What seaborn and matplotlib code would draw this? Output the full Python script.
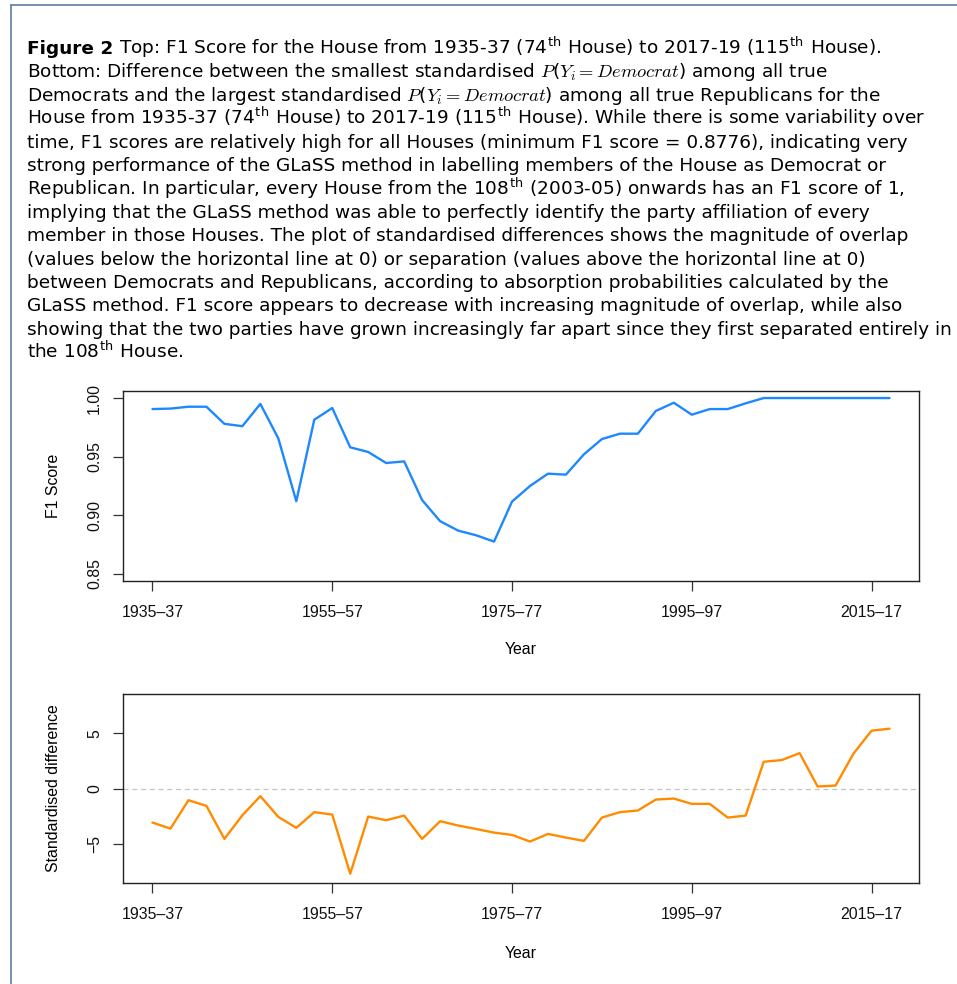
import numpy as np
import pandas as pd
import seaborn as sns
from matplotlib import pyplot as plt
from matplotlib.lines import Line2D

# House number, 74th (1935-37) to 115th (2017-19)
house = list(range(74, 116))

f1_score = [0.9906, 0.9910, 0.9926, 0.9926, 0.9780, 0.9760, 0.9950, 0.9656,
            0.9120, 0.9815, 0.9915, 0.9580, 0.9540, 0.9446, 0.9460, 0.9130,
            0.8950, 0.8870, 0.8830, 0.8776, 0.9117, 0.9250, 0.9355, 0.9347,
            0.9520, 0.9650, 0.9696, 0.9696, 0.9890, 0.9960, 0.9858, 0.9906,
            0.9906, 0.9955, 1.0, 1.0, 1.0, 1.0, 1.0, 1.0, 1.0, 1.0]

std_diff = [-3.08, -3.63, -1.06, -1.57, -4.56, -2.42, -0.69, -2.57,
            -3.56, -2.14, -2.36, -7.71, -2.54, -2.87, -2.45, -4.56,
            -2.96, -3.35, -3.66, -3.99, -4.20, -4.80, -4.11, -4.44,
            -4.74, -2.63, -2.14, -1.99, -1.00, -0.91, -1.39, -1.39,
            -2.63, -2.45, 2.42, 2.57, 3.20, 0.18, 0.27, 3.17,
            5.23, 5.41]

tick_house = [74, 84, 94, 104, 114]
tick_labels = ['1935\u201337', '1955\u201357', '1975\u201377', '1995\u201397', '2015\u201317']

TH = r'$^{\mathdefault{th}}$'
PY = r'$P\mathdefault{(}Y_i = Democrat\mathdefault{)}$'
first_line = 'Top: F1 Score for the House from 1935-37 (74' + TH + ' House) to 2017-19 (115' + TH + ' House).'
caption = [
    None,
    'Bottom: Difference between the smallest standardised ' + PY + ' among all true',
    'Democrats and the largest standardised ' + PY + ' among all true Republicans for the',
    'House from 1935-37 (74' + TH + ' House) to 2017-19 (115' + TH + ' House). While there is some variability over',
    'time, F1 scores are relatively high for all Houses (minimum F1 score = 0.8776), indicating very',
    'strong performance of the GLaSS method in labelling members of the House as Democrat or',
    'Republican. In particular, every House from the 108' + TH + ' (2003-05) onwards has an F1 score of 1,',
    'implying that the GLaSS method was able to perfectly identify the party affiliation of every',
    'member in those Houses. The plot of standardised differences shows the magnitude of overlap',
    '(values below the horizontal line at 0) or separation (values above the horizontal line at 0)',
    'between Democrats and Republicans, according to absorption probabilities calculated by the',
    'GLaSS method. F1 score appears to decrease with increasing magnitude of overlap, while also',
    'showing that the two parties have grown increasingly far apart since they first separated entirely in',
    'the 108' + TH + ' House.',
]

sns.set_style('ticks')
plt.rcParams['font.family'] = ['Liberation Sans', 'Arial', 'DejaVu Sans']
plt.rcParams['mathtext.fontset'] = 'cm'
plt.rcParams['axes.unicode_minus'] = True
plt.rcParams['text.color'] = 'black'

W, H = 957, 984
fig = plt.figure(figsize=(W / 100, H / 100), dpi=100)

# page frame
fig.add_artist(Line2D([11 / W, 11 / W], [0, 1 - 5 / H], color='#5b7ba6', lw=1.2))
fig.add_artist(Line2D([11 / W, 1], [1 - 5 / H, 1 - 5 / H], color='#5b7ba6', lw=1.2))

# caption, font size fitted so the longest line spans its width in the original
cap_font = 'DejaVu Sans'
x0 = 27 / W
def base_y(k):
    return 1 - (54 + 23.4 * k) / H

probe = fig.text(x0, base_y(12), caption[12], family=cap_font, fontsize=12, va='baseline')
fig.canvas.draw()
w12 = probe.get_window_extent().width
cap_size = 12 * (948 - 27) / w12
probe.set_fontsize(cap_size)

fig_lbl = fig.text(x0, base_y(0), 'Figure 2', family=cap_font, fontsize=cap_size,
                   fontweight='bold', va='baseline')
fig.canvas.draw()
bb = fig_lbl.get_window_extent()
fig.text((bb.x1 + 6) / W, base_y(0), first_line, family=cap_font, fontsize=cap_size, va='baseline')
for k, line in enumerate(caption):
    if line is None or k == 12:
        continue
    fig.text(x0, base_y(k), line, family=cap_font, fontsize=cap_size, va='baseline')

df = pd.DataFrame({'house': house, 'f1': f1_score, 'diff': std_diff})

left, width = 123 / W, 796 / W
ax1 = fig.add_axes([left, 1 - 581 / H, width, 190 / H])
ax2 = fig.add_axes([left, 1 - 883 / H, width, 189 / H])

sns.lineplot(data=df, x='house', y='f1', ax=ax1, color='#1e88ff', lw=1.7)
ax1.set_ylim(0.844, 1.006)
ax1.set_yticks([0.85, 0.90, 0.95, 1.00])
ax1.set_yticklabels(['0.85', '0.90', '0.95', '1.00'])

ax2.axhline(0, color='#c4c4c4', lw=0.9, ls=(0, (4, 3)))
sns.lineplot(data=df, x='house', y='diff', ax=ax2, color='#ff8c00', lw=1.7)
ax2.set_ylim(-8.55, 8.55)
ax2.set_yticks([-5, 0, 5])
ax2.set_yticklabels(['\u22125', '0', '5'])

for ax in (ax1, ax2):
    ax.set_xlim(74 - 1.64, 115 + 1.64)
    ax.set_xticks(tick_house)
    ax.set_xticklabels(tick_labels)
    ax.set_xlabel('')
    ax.set_ylabel('')
    for s in ax.spines.values():
        s.set_visible(True)
        s.set_linewidth(1.0)
        s.set_color('#222222')
    ax.tick_params(axis='both', direction='out', length=7, width=0.9, color='#333333',
                   labelsize=11.4, pad=10, labelcolor='#111111')
    for t in ax.get_yticklabels():
        t.set_rotation(90)
        t.set_va('center')
    ax.tick_params(axis='y', pad=8)

fig.text(54 / W, 1 - 486 / H, 'F1 Score', rotation=90, ha='center', va='center', fontsize=11.4)
fig.text(521 / W, 1 - 650 / H, 'Year', ha='center', va='center', fontsize=11.4)
fig.text(54 / W, 1 - 788 / H, 'Standardised difference', rotation=90, ha='center', va='center', fontsize=11.4)
fig.text(521 / W, 1 - 953 / H, 'Year', ha='center', va='center', fontsize=11.4)

fig.savefig('out.png', dpi=100)
